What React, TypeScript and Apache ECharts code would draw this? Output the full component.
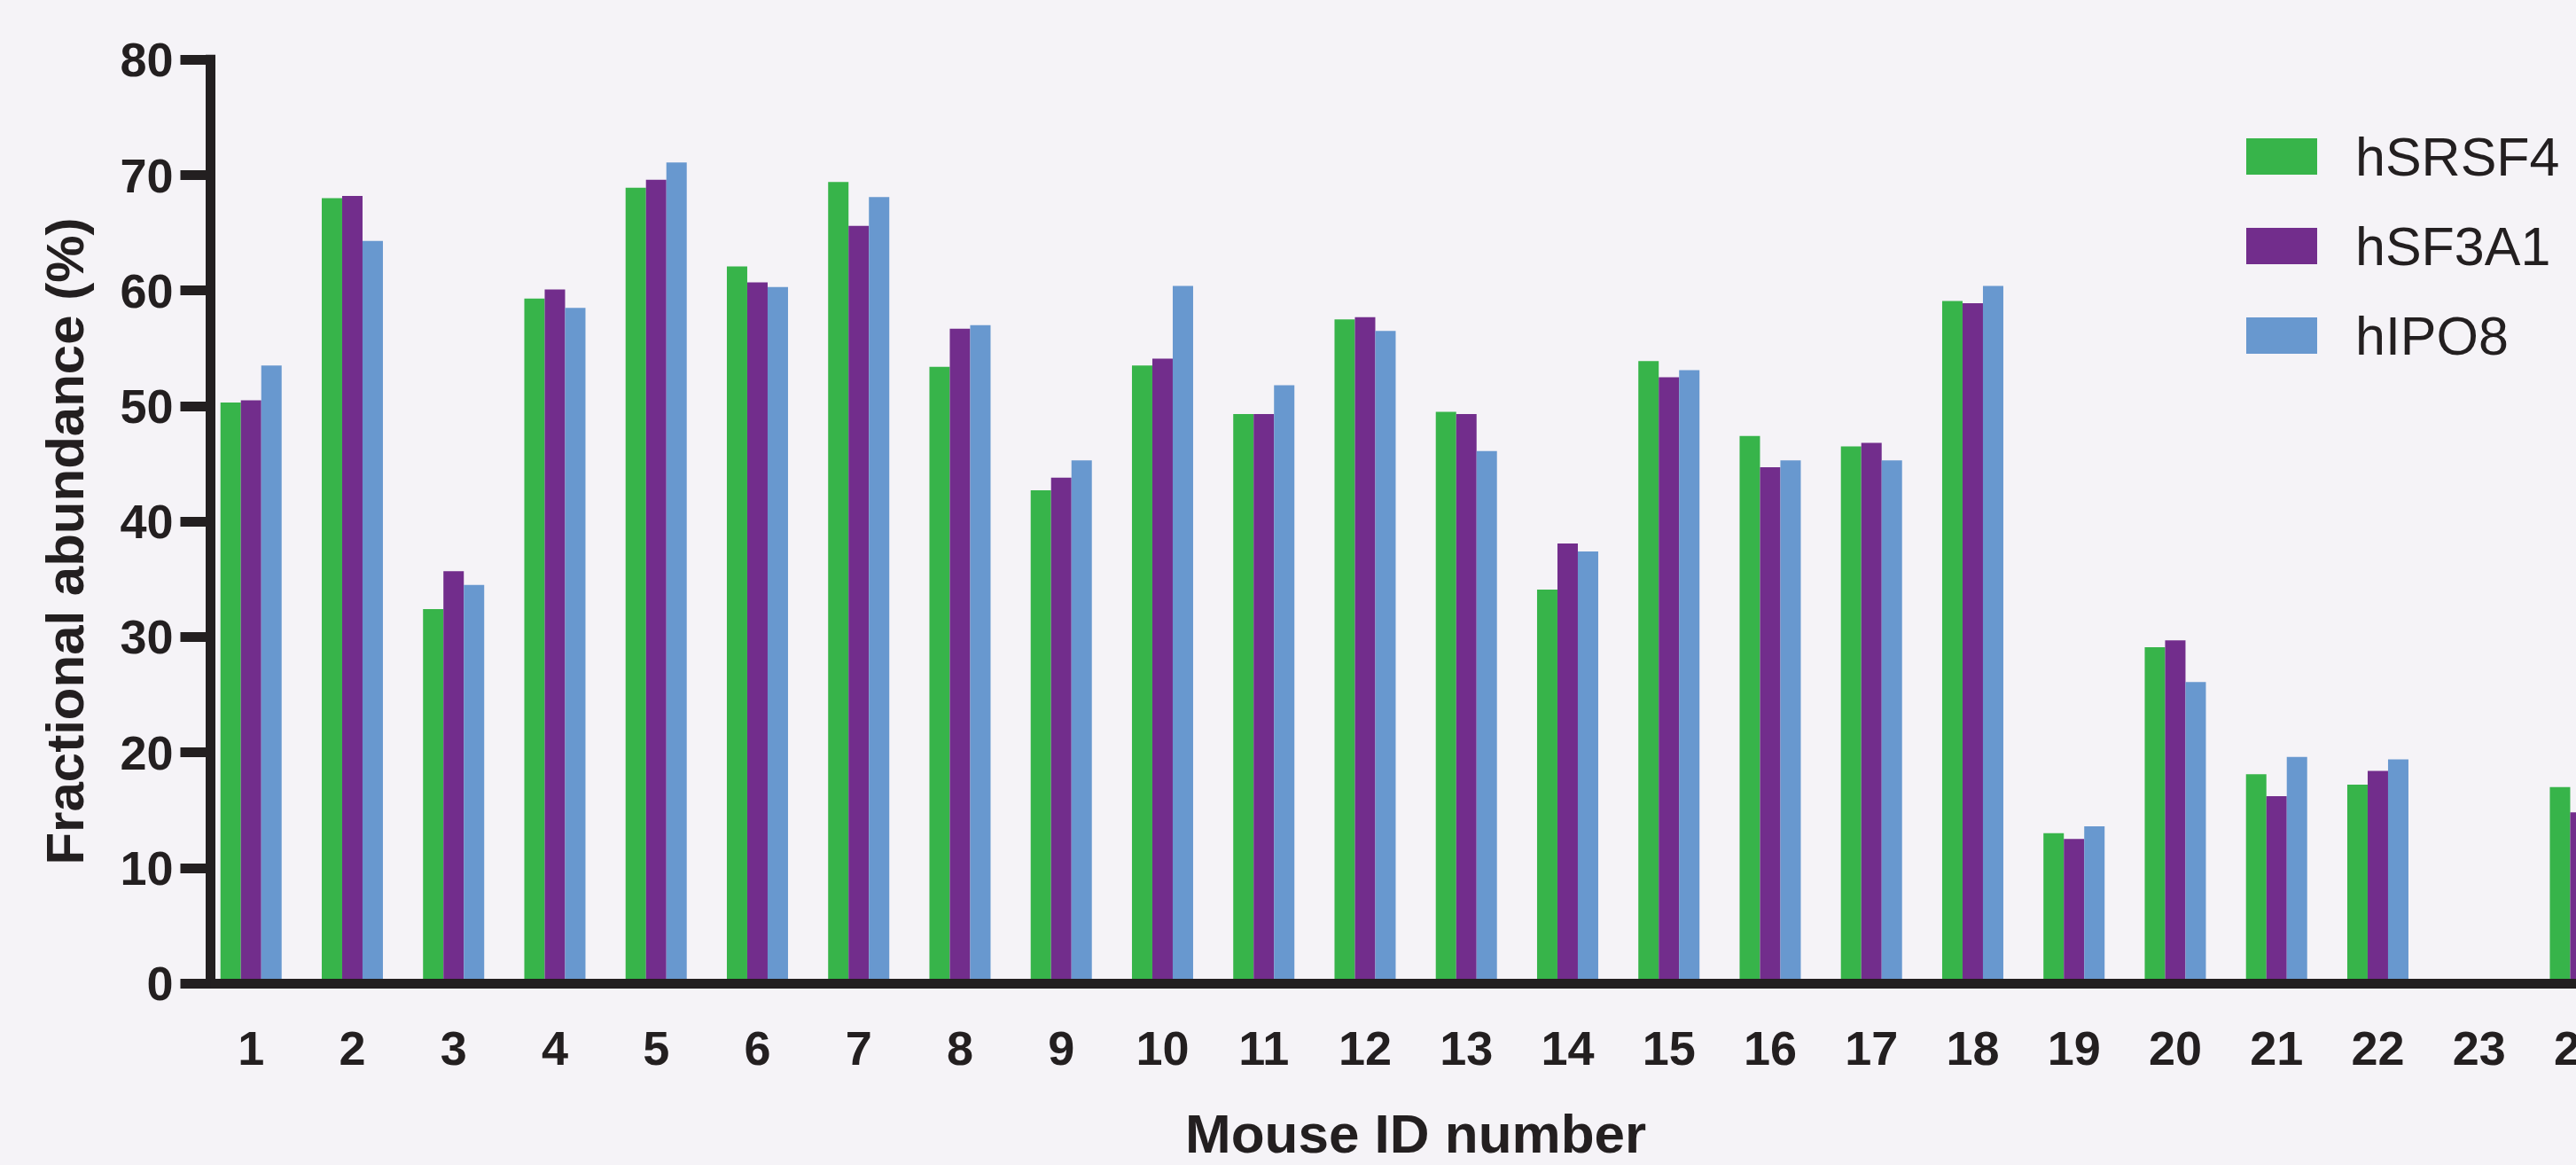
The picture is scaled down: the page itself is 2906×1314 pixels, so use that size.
import React, { useEffect, useRef } from "react";
import * as echarts from "echarts";

const mouseIds = ["1","2","3","4","5","6","7","8","9","10","11","12","13","14","15","16","17","18","19","20","21","22","23","24"];
const hSRSF4 = [50.3, 68.0, 32.4, 59.3, 68.9, 62.1, 69.4, 53.4, 42.7, 53.5, 49.3, 57.5, 49.5, 34.1, 53.9, 47.4, 46.5, 59.1, 13.0, 29.1, 18.1, 17.2, null, 17.0];
const hSF3A1 = [50.5, 68.2, 35.7, 60.1, 69.6, 60.7, 65.6, 56.7, 43.8, 54.1, 49.3, 57.7, 49.3, 38.1, 52.5, 44.7, 46.8, 58.9, 12.5, 29.7, 16.2, 18.4, null, 14.8];
const hIPO8 = [53.5, 64.3, 34.5, 58.5, 71.1, 60.3, 68.1, 57.0, 45.3, 60.4, 51.8, 56.5, 46.1, 37.4, 53.1, 45.3, 45.3, 60.4, 13.6, 26.1, 19.6, 19.4, null, null];
const seriesNames = ["hSRSF4", "hSF3A1", "hIPO8"];
const seriesColors = ["#37B44A", "#722D8C", "#6898CF"];

const FONT = "'Liberation Sans', Arial, Helvetica, sans-serif";
const INK = "#231F20";
const BG = "#F5F3F7";

export default function App() {
  const ref = useRef<HTMLDivElement>(null);
  useEffect(() => {
    if (!ref.current) return;
    const chart = echarts.init(ref.current, undefined, { renderer: "svg" });
    const data = [hSRSF4, hSF3A1, hIPO8];
    chart.setOption({
      animation: false,
      backgroundColor: BG,
      textStyle: { fontFamily: FONT },
      grid: { left: 226.1, right: 1.9, top: 67.3, bottom: 202.7, containLabel: false },
      legend: {
        orient: "vertical",
        left: 2534,
        top: 146,
        padding: 0,
        itemWidth: 80,
        itemHeight: 41,
        itemGap: 40,
        icon: "rect",
        data: seriesNames,
        textStyle: {
          fontFamily: FONT,
          fontSize: 61,
          lineHeight: 61,
          color: INK,
          padding: [0, 0, 0, 38],
        },
      },
      xAxis: {
        type: "category",
        data: mouseIds,
        z: 5,
        name: "Mouse ID number",
        nameLocation: "middle",
        nameGap: 138,
        nameTextStyle: { fontFamily: FONT, fontSize: 62, fontWeight: "bold", color: INK },
        axisLine: { lineStyle: { color: INK, width: 11, cap: "square" } },
        axisTick: { alignWithLabel: true, length: 34, lineStyle: { color: INK, width: 11 } },
        axisLabel: { interval: 0, margin: 46, fontFamily: FONT, fontSize: 54, fontWeight: "bold", color: INK },
        splitLine: { show: false },
      },
      yAxis: {
        type: "value",
        min: 0,
        max: 80,
        interval: 10,
        offset: -11.4,
        z: 5,
        axisLine: { show: true, lineStyle: { color: INK, width: 11, cap: "square" } },
        axisTick: { show: true, length: 34, lineStyle: { color: INK, width: 11 } },
        axisLabel: { margin: 42, fontFamily: FONT, fontSize: 54, fontWeight: "bold", color: INK },
        splitLine: { show: false },
      },
      graphic: [
        {
          type: "text",
          x: 73,
          y: 610.5,
          rotation: Math.PI / 2,
          style: {
            text: "Fractional abundance (%)",
            fontFamily: FONT,
            fontSize: 60,
            fontWeight: "bold",
            fill: INK,
            align: "center",
            verticalAlign: "middle",
          },
        },
      ],
      series: seriesNames.map((name, i) => ({
        name,
        type: "bar",
        data: data[i],
        barWidth: 23,
        barGap: "0%",
        itemStyle: { color: seriesColors[i] },
      })),
    });
    return () => chart.dispose();
  }, []);
  return (
    <div style={{ position: "fixed", left: 0, top: 0, width: 2906, height: 1314, background: BG, overflow: "hidden" }}>
      <div ref={ref} style={{ position: "absolute", left: 0, top: 0, width: 2970, height: 1314 }} />
    </div>
  );
}
